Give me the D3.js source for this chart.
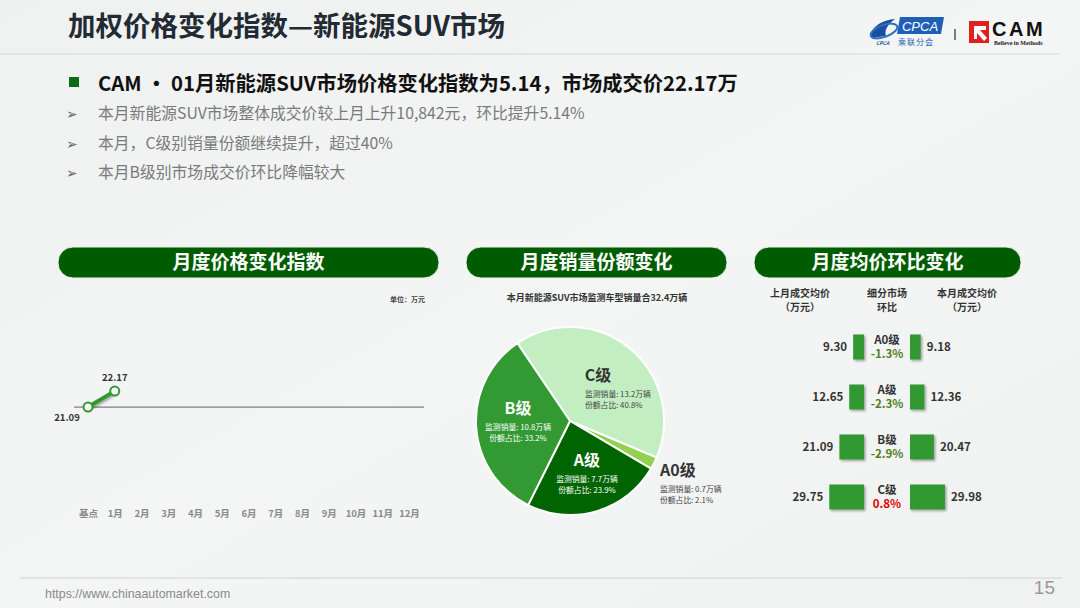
<!DOCTYPE html>
<html>
<head>
<meta charset="utf-8">
<script src="https://cdn.jsdelivr.net/npm/d3@7/dist/d3.min.js"></script>
<style>
  body { margin: 0; background: #f1f2f2; }
  svg { display: block; font-family: "Noto Sans CJK SC", "Noto Sans", sans-serif; }
</style>
</head>
<body>
<div id="chart"></div>
<script>
// 月度价格变化指数
const months = ["基点", "1月", "2月", "3月", "4月", "5月", "6月", "7月", "8月", "9月", "10月", "11月", "12月"];
const priceIndex = [21.09, 22.17];

// 月度销量份额变化
const segments = ["C级", "A0级", "A级", "B级"];
const segSales = [13.2, 0.7, 7.7, 10.8];
const segShare = [40.8, 2.1, 23.9, 33.2];
const segColors = ["#c2eec2", "#92d050", "#006400", "#339933"];

// 月度均价环比变化
const rowNames = ["A0级", "A级", "B级", "C级"];
const lastPrice = [9.30, 12.65, 21.09, 29.75];
const thisPrice = [9.18, 12.36, 20.47, 29.98];
const momChange = ["-1.3%", "-2.3%", "-2.9%", "0.8%"];

const bullets = [
    "本月新能源SUV市场整体成交价较上月上升10,842元，环比提升5.14%",
    "本月，C级别销量份额继续提升，超过40%",
    "本月B级别市场成交价环比降幅较大"
];

const W = 1080, H = 608;
const svg = d3.select("#chart").append("svg").attr("width", W).attr("height", H);

// 背景
const defs = svg.append("defs");
const bg = defs.append("linearGradient").attr("id", "bg").attr("x1", 0).attr("y1", 0).attr("x2", 1).attr("y2", 1);
bg.append("stop").attr("offset", 0).attr("stop-color", "#eff0f0");
bg.append("stop").attr("offset", 0.5).attr("stop-color", "#f4f5f5");
bg.append("stop").attr("offset", 1).attr("stop-color", "#f0f1f1");
svg.append("rect").attr("width", W).attr("height", H).attr("fill", "url(#bg)");

const shadow = defs.append("filter").attr("id", "shadow").attr("x", -0.3).attr("y", -0.3).attr("width", 1.6).attr("height", 1.6);
shadow.append("feDropShadow").attr("dx", 1.5).attr("dy", 1.5).attr("stdDeviation", 1.2).attr("flood-color", "#000").attr("flood-opacity", 0.35);

// 标题
svg.append("text").attr("x", 68).attr("y", 36)
    .attr("font-size", 27.5).attr("font-weight", "bold").attr("fill", "#222a33")
    .text("加权价格变化指数—新能源SUV市场");
svg.append("line").attr("x1", 0).attr("x2", 1060).attr("y1", 54).attr("y2", 54)
    .attr("stroke", "#d8d8d8").attr("stroke-width", 1);

// logo
const logo = svg.append("g");
logo.append("path").attr("d", "M872,38 C868,30 880,20 895,19 C888,24 884,30 886,36 Z").attr("fill", "#1a4fa0");
logo.append("ellipse").attr("cx", 884).attr("cy", 31).attr("rx", 14).attr("ry", 6)
    .attr("fill", "none").attr("stroke", "#2d6fc4").attr("stroke-width", 2).attr("transform", "rotate(-20,884,31)");
logo.append("text").attr("x", 876).attr("y", 45).attr("font-size", 5).attr("font-style", "italic")
    .attr("font-weight", "bold").attr("fill", "#1a4fa0").text("CPCA");
logo.append("path").attr("d", "M900,17 L944,17 L941,34 L897,34 Z").attr("fill", "#1f5fb8");
logo.append("text").attr("x", 920).attr("y", 31).attr("text-anchor", "middle").attr("font-size", 13)
    .attr("font-style", "italic").attr("fill", "#fff").attr("font-family", "Liberation Sans").text("CPCA");
logo.append("text").attr("x", 916).attr("y", 45).attr("text-anchor", "middle").attr("font-size", 8)
    .attr("fill", "#1f5fb8").attr("letter-spacing", 1).text("乘联分会");
logo.append("line").attr("x1", 955).attr("x2", 955).attr("y1", 29).attr("y2", 40).attr("stroke", "#555").attr("stroke-width", 1.5);
logo.append("rect").attr("x", 969).attr("y", 21).attr("width", 20).attr("height", 22).attr("fill", "#e0201b");
logo.append("path").attr("d", "M974,26 L986,26 L986,30 L980,30 L987,38 L984,41 L977,33 L977,39 L974,39 Z").attr("fill", "#fff");
logo.append("text").attr("x", 992).attr("y", 36).attr("font-size", 20).attr("font-weight", "bold")
    .attr("font-family", "Liberation Sans").attr("letter-spacing", 2.5).attr("fill", "#111").text("CAM");
logo.append("text").attr("x", 994).attr("y", 45).attr("font-size", 6).attr("font-weight", "bold")
    .attr("font-family", "Liberation Serif").attr("fill", "#222").text("Believe in Methods");

// 要点
svg.append("rect").attr("x", 69).attr("y", 77).attr("width", 10).attr("height", 10).attr("fill", "#0a6b1a");
svg.append("text").attr("x", 98).attr("y", 91).attr("font-size", 20.3).attr("font-weight", "bold").attr("fill", "#111")
    .text("CAM • 01月新能源SUV市场价格变化指数为5.14，市场成交价22.17万");
bullets.forEach((b, i) => {
    const y = 119 + i * 29.5;
    svg.append("text").attr("x", 66).attr("y", y).attr("font-size", 14).attr("fill", "#666").text("➢");
    svg.append("text").attr("x", 98).attr("y", y).attr("font-size", 15.8).attr("fill", "#7a7a7a").text(b);
});

// 分区标签
const pills = [
    { x: 58, w: 381, t: "月度价格变化指数" },
    { x: 466, w: 261, t: "月度销量份额变化" },
    { x: 754, w: 267, t: "月度均价环比变化" }
];
pills.forEach(p => {
    svg.append("rect").attr("x", p.x).attr("y", 247).attr("width", p.w).attr("height", 31)
        .attr("rx", 15).attr("fill", "#005c00").attr("stroke", "#e9f2e9").attr("stroke-width", 1);
    svg.append("text").attr("x", p.x + p.w / 2).attr("y", 269).attr("text-anchor", "middle")
        .attr("font-size", 19).attr("font-weight", "bold").attr("fill", "#fff").text(p.t);
});

// ---- 折线图 ----
const x = d3.scalePoint().domain(months).range([88, 409]);
const y = d3.scaleLinear().domain([13.8, 29]).range([515, 290]);
const line1 = svg.append("g");
line1.append("text").attr("x", 425).attr("y", 302).attr("text-anchor", "end").attr("font-size", 7)
    .attr("font-weight", "bold").attr("fill", "#444").text("单位：万元");
line1.append("line").attr("x1", 74).attr("x2", 424).attr("y1", y(priceIndex[0])).attr("y2", y(priceIndex[0]))
    .attr("stroke", "#7f7f7f").attr("stroke-width", 1.3);
const xAxis = line1.append("g").attr("transform", "translate(0,510)")
    .call(d3.axisBottom(x).tickSize(0).tickPadding(0));
xAxis.select(".domain").remove();
xAxis.selectAll("text").attr("font-size", 9.5).attr("font-weight", "bold").attr("fill", "#8a8a8a")
    .attr("font-family", "Noto Sans CJK SC").attr("dy", "0.71em");
const pts = priceIndex.map((v, i) => ({ m: months[i], v }));
line1.append("path").datum(pts)
    .attr("d", d3.line().x(d => x(d.m)).y(d => y(d.v)))
    .attr("fill", "none").attr("stroke", "#2e9a2e").attr("stroke-width", 4).attr("filter", "url(#shadow)");
line1.selectAll("circle").data(pts).join("circle")
    .attr("cx", d => x(d.m)).attr("cy", d => y(d.v)).attr("r", 4.5)
    .attr("fill", "#fff").attr("stroke", "#2e9a2e").attr("stroke-width", 2);
line1.selectAll(".lbl").data(pts).join("text").attr("class", "lbl")
    .attr("x", (d, i) => x(d.m) + (i === 0 ? -21 : 0))
    .attr("y", (d, i) => y(d.v) + (i === 0 ? 14 : -10))
    .attr("text-anchor", "middle").attr("font-size", 9.5).attr("font-weight", "bold").attr("fill", "#333")
    .text(d => d.v.toFixed(2));

// ---- 饼图 ----
const cx = 570, cy = 421, R = 94;
svg.append("text").attr("x", 597).attr("y", 301).attr("text-anchor", "middle").attr("font-size", 9)
    .attr("font-weight", "bold").attr("fill", "#333").text("本月新能源SUV市场监测车型销量合32.4万辆");
const start = -34 * Math.PI / 180;
const pie = d3.pie().sort(null).value(d => d).startAngle(start).endAngle(start + 2 * Math.PI);
const arcs = pie(segShare);
const arc = d3.arc().innerRadius(0).outerRadius(R);
const pg = svg.append("g").attr("transform", `translate(${cx},${cy})`);
pg.selectAll("path").data(arcs).join("path")
    .attr("d", arc).attr("fill", (d, i) => segColors[i]).attr("stroke", "#fff").attr("stroke-width", 2);

const labelPos = [
    { x: 598, y: 381, main: "#333", sub: "#444", anchor: "middle", sx: 585 },
    { x: 660, y: 476, main: "#333", sub: "#444", anchor: "start", sx: 660 },
    { x: 587, y: 466, main: "#fff", sub: "#fff", anchor: "middle", sx: 587 },
    { x: 518, y: 414, main: "#fff", sub: "#fff", anchor: "middle", sx: 518 }
];
segments.forEach((s, i) => {
    const p = labelPos[i];
    svg.append("text").attr("x", p.x).attr("y", p.y).attr("text-anchor", p.anchor)
        .attr("font-size", 16).attr("font-weight", "bold").attr("fill", p.main).text(s);
    const sa = i === 0 ? "start" : p.anchor;
    svg.append("text").attr("x", p.sx).attr("y", p.y + 16).attr("text-anchor", sa)
        .attr("font-size", 7.8).attr("fill", p.sub).text(`监测销量: ${segSales[i]}万辆`);
    svg.append("text").attr("x", p.sx).attr("y", p.y + 27).attr("text-anchor", sa)
        .attr("font-size", 7.8).attr("fill", p.sub).text(`份额占比: ${segShare[i]}%`);
});

// ---- 均价环比 ----
const tg = svg.append("g");
[[800, "上月成交均价", "（万元）"], [887, "细分市场", "环比"], [967, "本月成交均价", "（万元）"]].forEach(h => {
    tg.append("text").attr("x", h[0]).attr("y", 297).attr("text-anchor", "middle").attr("font-size", 10)
        .attr("font-weight", "bold").attr("fill", "#333").text(h[1]);
    tg.append("text").attr("x", h[0]).attr("y", 311).attr("text-anchor", "middle").attr("font-size", 10)
        .attr("font-weight", "bold").attr("fill", "#333").text(h[2]);
});
const rowY = d3.scalePoint().domain(rowNames).range([347, 497]);
const wScale = d3.scaleLinear().domain([0, 30]).range([0, 35]);
const bh = 25;
rowNames.forEach((r, i) => {
    const yc = rowY(r);
    const wl = wScale(lastPrice[i]), wr = wScale(thisPrice[i]);
    tg.append("rect").attr("x", 864 - wl).attr("y", yc - bh / 2).attr("width", wl).attr("height", bh)
        .attr("fill", "#339933").attr("filter", "url(#shadow)");
    tg.append("rect").attr("x", 910).attr("y", yc - bh / 2).attr("width", wr).attr("height", bh)
        .attr("fill", "#339933").attr("filter", "url(#shadow)");
    tg.append("text").attr("x", 864 - wl - 6).attr("y", yc + 4).attr("text-anchor", "end")
        .attr("font-size", 11.5).attr("font-weight", "bold").attr("fill", "#333").text(lastPrice[i].toFixed(2));
    tg.append("text").attr("x", 910 + wr + 6).attr("y", yc + 4).attr("text-anchor", "start")
        .attr("font-size", 11.5).attr("font-weight", "bold").attr("fill", "#333").text(thisPrice[i].toFixed(2));
    tg.append("text").attr("x", 887).attr("y", yc - 3).attr("text-anchor", "middle")
        .attr("font-size", 11.5).attr("font-weight", "bold").attr("fill", "#333").text(r);
    tg.append("text").attr("x", 887).attr("y", yc + 11).attr("text-anchor", "middle")
        .attr("font-size", 11.5).attr("font-weight", "bold")
        .attr("fill", momChange[i].startsWith("-") ? "#4f7f1f" : "#e00000").text(momChange[i]);
});

// 页脚
svg.append("line").attr("x1", 20).attr("x2", 1062).attr("y1", 578).attr("y2", 578)
    .attr("stroke", "#dcdcdc").attr("stroke-width", 1.5);
svg.append("text").attr("x", 45).attr("y", 598).attr("font-size", 12.4).attr("fill", "#8a8a8a")
    .attr("font-family", "Liberation Sans Narrow, Liberation Sans").text("https://www.chinaautomarket.com");
svg.append("text").attr("x", 1055).attr("y", 594).attr("text-anchor", "end").attr("font-size", 19)
    .attr("fill", "#999").attr("font-family", "Liberation Sans Narrow, Liberation Sans").text("15");
</script>
</body>
</html>
